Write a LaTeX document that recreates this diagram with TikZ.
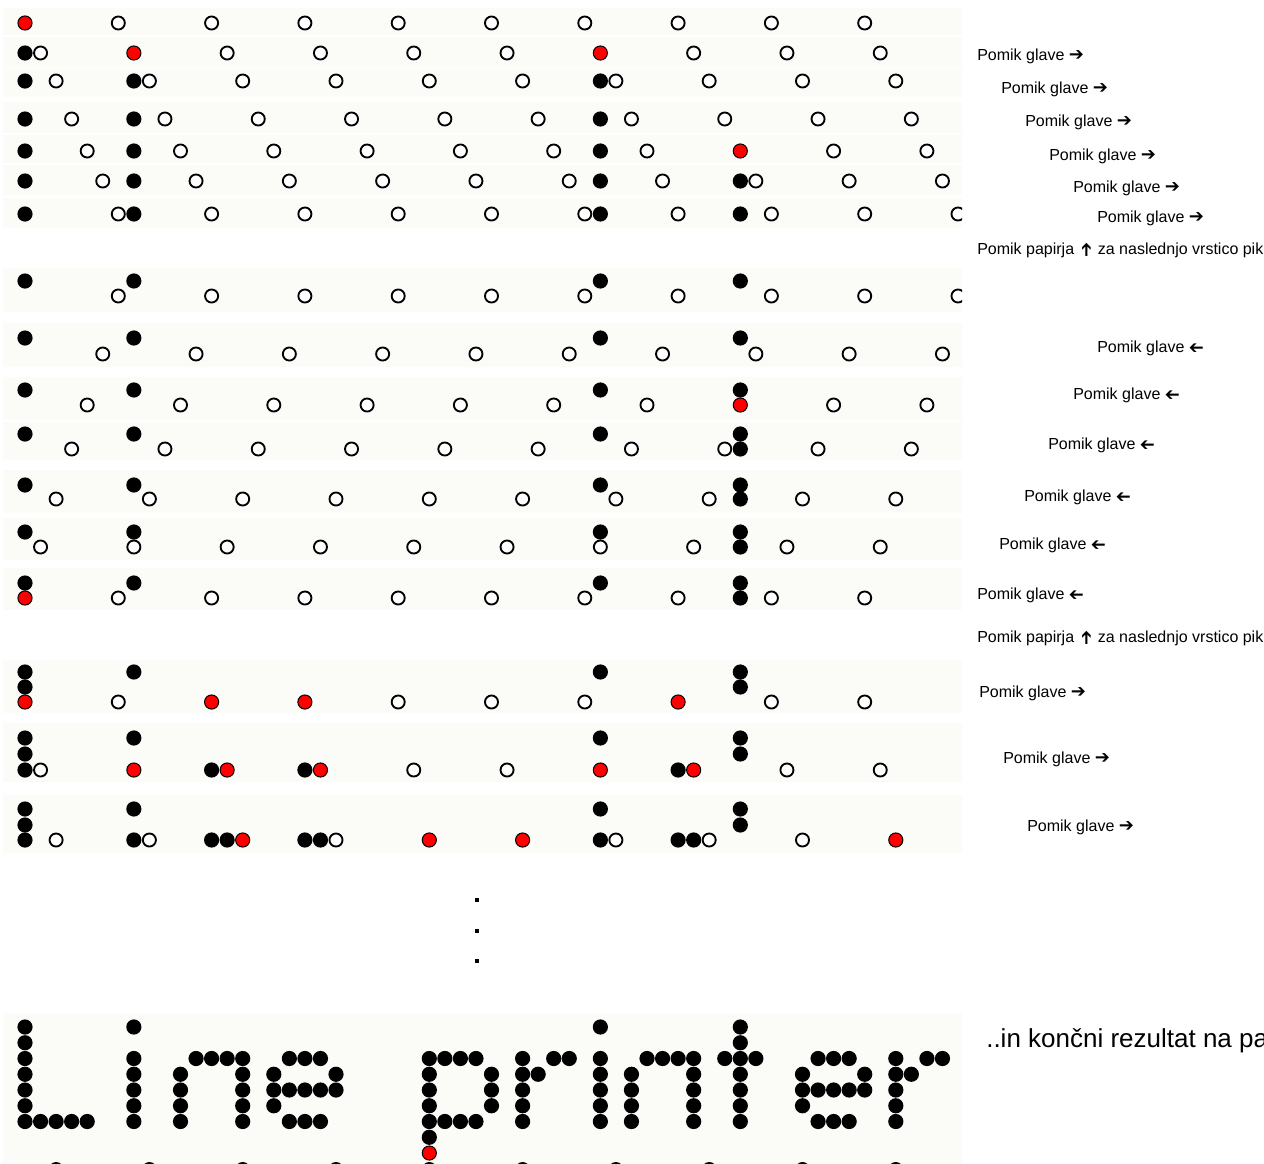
\documentclass[tikz,border=0pt]{standalone}
\usepackage{fontspec}
\usepackage{graphicx}
\setmainfont{Liberation Sans}
\newfontfamily\arrowfont{DejaVu Sans}
\definecolor{stripcol}{RGB}{251,252,248}
\newcommand\DotB[2]{\foreach \j in {#2}{\fill[black] ({25+15.55*\j},#1) circle[radius=5.7pt];}}
\newcommand\DotO[2]{\foreach \j in {#2}{\draw[black,fill=white,line width=1.4pt] ({25+15.55*\j},#1) circle[radius=4.9pt];}}
\newcommand\DotR[2]{\foreach \j in {#2}{\draw[black,fill=red,line width=0.75pt] ({25+15.55*\j},#1) circle[radius=5.3pt];}}
\newcommand\ArrGlyph{{\arrowfont\fontsize{13.5}{14}\selectfont ➔}}
\newcommand\RA{\ArrGlyph}
\newcommand\LA{\rotatebox[origin=c]{180}{\ArrGlyph}}
\newcommand\UA{\hspace{6.5pt}\rotatebox[origin=c]{90}{\ArrGlyph}\hspace{0.5pt}}
\tikzset{
  lbl/.style={anchor=base west, inner sep=0pt, font=\fontsize{12}{14}\selectfont},
  biglbl/.style={anchor=base west, inner sep=0pt, font=\fontsize{19.5}{23}\selectfont}
}
\begin{document}
\begin{tikzpicture}[x=0.75pt,y=-0.75pt]
\useasboundingbox (0,0) rectangle (1264,1164);
\fill[white] (0,0) rectangle (1264,1164);
% faint background strips
\foreach \a/\b in {8/35,37/67,68/97,102/133,135/163,165/195,198/228,268/312,323/367,377/420,422/460,470/513,518/560,568/610,660/713,723/782,795/853,1013/1164}
  {\fill[stripcol] (3,\a) rectangle (962,\b);}
\begin{scope}
\clip (0,0) rectangle (962,1164);
% ---- row 0, head moving right
\DotO{23}{6,12,18,24,30,36,42,48,54}\DotR{23}{0}
\DotB{53}{0}\DotO{53}{1,13,19,25,31,43,49,55}\DotR{53}{7,37}
\DotB{81}{0,7,37}\DotO{81}{2,8,14,20,26,32,38,44,50,56}
\DotB{119}{0,7,37}\DotO{119}{3,9,15,21,27,33,39,45,51,57}
\DotB{151}{0,7,37}\DotO{151}{4,10,16,22,28,34,40,52,58}\DotR{151}{46}
\DotB{181}{0,7,37,46}\DotO{181}{5,11,17,23,29,35,41,47,53,59}
\DotB{214}{0,7,37,46}\DotO{214}{6,12,18,24,30,36,42,48,54,60}
% ---- row 1, head moving left
\DotB{281}{0,7,37,46}\DotO{296}{6,12,18,24,30,36,42,48,54,60}
\DotB{338}{0,7,37,46}\DotO{354}{5,11,17,23,29,35,41,47,53,59}
\DotB{390}{0,7,37,46}\DotO{405}{4,10,16,22,28,34,40,52,58}\DotR{405}{46}
\DotB{434}{0,7,37,46}\DotB{449}{46}\DotO{449}{3,9,15,21,27,33,39,45,51,57}
\DotB{485}{0,7,37,46}\DotB{499}{46}\DotO{499}{2,8,14,20,26,32,38,44,50,56}
\DotB{532}{0,7,37,46}\DotB{547}{46}\DotO{547}{1,7,13,19,25,31,37,43,49,55}
\DotB{583}{0,7,37,46}\DotB{598}{46}\DotO{598}{6,12,18,24,30,36,42,48,54}\DotR{598}{0}
% ---- row 2, head moving right
\DotB{672}{0,7,37,46}\DotB{687}{0,46}\DotO{702}{6,24,30,36,48,54}\DotR{702}{0,12,18,42}
\DotB{738}{0,7,37,46}\DotB{754}{0,46}\DotB{770}{0,12,18,42}\DotO{770}{1,25,31,49,55}\DotR{770}{7,13,19,37,43}
\DotB{809}{0,7,37,46}\DotB{825}{0,46}\DotB{840}{0,7,12,13,18,19,37,42,43}\DotO{840}{2,8,20,38,44,50}\DotR{840}{14,26,32,56}
% ---- final result "Line printer"
\DotB{1027}{0,7,37,46}
\DotB{1042.75}{0,46}
\DotB{1058.5}{0,7,11,12,13,14,17,18,19,26,27,28,29,32,34,35,37,40,41,42,43,45,46,47,51,52,53,56,58,59}
\DotB{1074.25}{0,7,10,14,16,20,26,30,32,33,37,39,43,46,50,54,56,57}
\DotB{1090}{0,7,10,14,16,17,18,19,20,26,30,32,37,39,43,46,50,51,52,53,54,56}
\DotB{1105.75}{0,7,10,14,16,26,30,32,37,39,43,46,50,56}
\DotB{1121.5}{0,1,2,3,4,7,10,14,17,18,19,26,27,28,29,32,37,39,43,46,51,52,53,56}
\DotB{1137.25}{26}
\DotO{1169.5}{2,8,14,20,26,32,38,44,50,56}
\DotR{1153}{26}
\end{scope}
% vertical ellipsis
\foreach \yy in {900,931,961} {\fill[black] (475.3,\yy-1.7) rectangle (478.7,\yy+1.7);}
% labels
\node[lbl] (l1) at (977,60.5) {Pomik glave \RA};
\node[lbl] (l2) at (1001,93) {Pomik glave \RA};
\node[lbl] (l3) at (1025,126.5) {Pomik glave \RA};
\node[lbl] (l4) at (1049,160.5) {Pomik glave \RA};
\node[lbl] (l5) at (1073,192.5) {Pomik glave \RA};
\node[lbl] (l6) at (1097,222.5) {Pomik glave \RA};
\node[lbl] (p1) at (977,254.5) {Pomik papirja\UA{} za naslednjo vrstico pik};
\node[lbl] (l7) at (1097,352.5) {Pomik glave \LA};
\node[lbl] (l8) at (1073,399.5) {Pomik glave \LA};
\node[lbl] (l9) at (1048,449.5) {Pomik glave \LA};
\node[lbl] (l10) at (1024,501.5) {Pomik glave \LA};
\node[lbl] (l11) at (999,549.5) {Pomik glave \LA};
\node[lbl] (l12) at (977,599.5) {Pomik glave \LA};
\node[lbl] (p2) at (977,642.5) {Pomik papirja\UA{} za naslednjo vrstico pik};
\node[lbl] (l13) at (979,697.5) {Pomik glave \RA};
\node[lbl] (l14) at (1003,763.5) {Pomik glave \RA};
\node[lbl] (l15) at (1027,831.5) {Pomik glave \RA};
\node[biglbl] (fin) at (986,1047) {..in končni rezultat na pa};
\end{tikzpicture}
\end{document}
